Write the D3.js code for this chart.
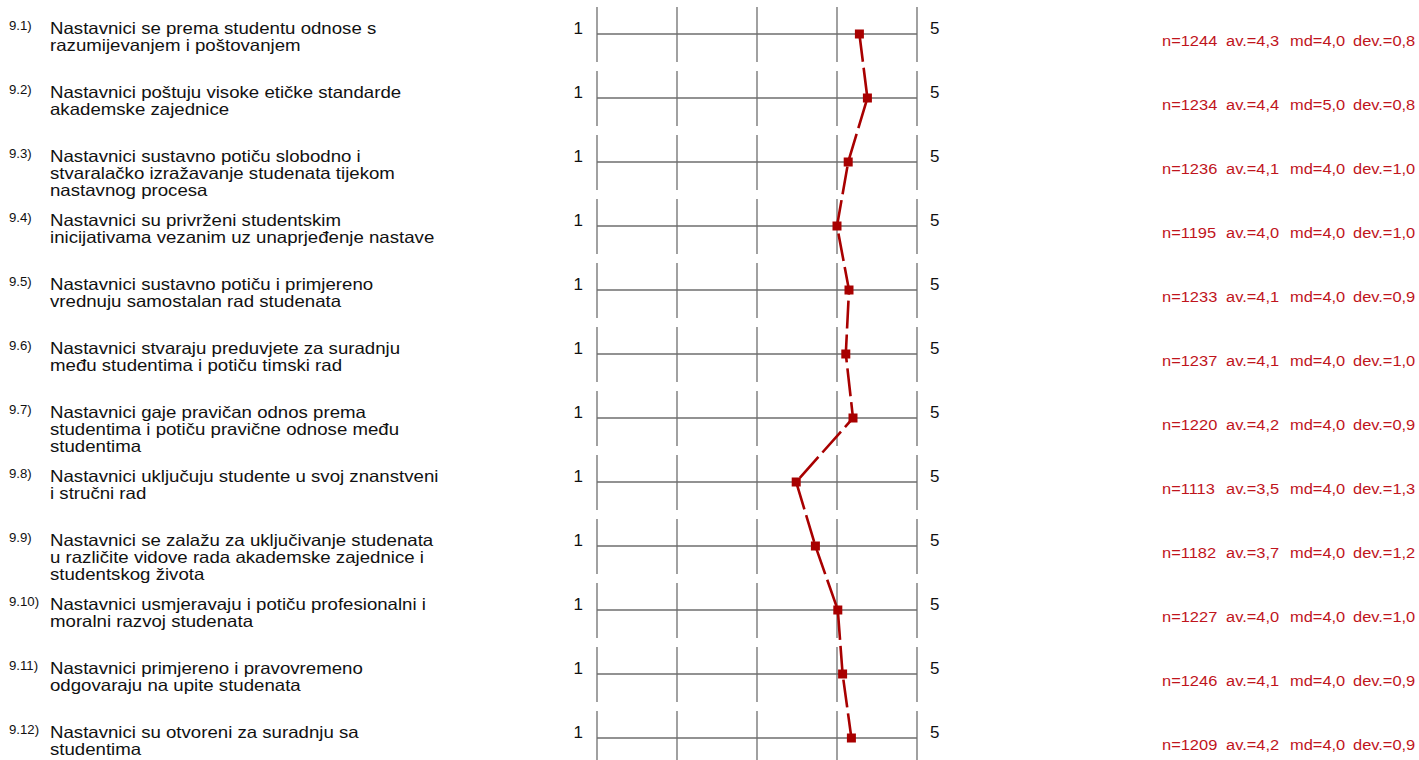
<!DOCTYPE html>
<meta charset="utf-8">
<style>
body { margin:0; background:#fff; }
svg text { font-family: Arial, "Liberation Sans", Helvetica, sans-serif; }
.grid line { stroke:#6e6e6e; stroke-width:1.3; }
.lbl { font-size:16.5px; fill:#111; }
.num { font-size:12px; fill:#111; }
.end { font-size:17px; fill:#111; }
.stat { font-size:15.5px; fill:#c0141c; }
</style>
<div id="chart"></div>
<script src="https://cdn.jsdelivr.net/npm/d3@7"></script>
<script>

var ids = ["9.1)","9.2)","9.3)","9.4)","9.5)","9.6)","9.7)","9.8)","9.9)","9.10)","9.11)","9.12)"]

var labels = [
  ["Nastavnici se prema studentu odnose s", "razumijevanjem i poštovanjem"],
  ["Nastavnici poštuju visoke etičke standarde", "akademske zajednice"],
  ["Nastavnici sustavno potiču slobodno i", "stvaralačko izražavanje studenata tijekom", "nastavnog procesa"],
  ["Nastavnici su privrženi studentskim", "inicijativama vezanim uz unaprjeđenje nastave"],
  ["Nastavnici sustavno potiču i primjereno", "vrednuju samostalan rad studenata"],
  ["Nastavnici stvaraju preduvjete za suradnju", "među studentima i potiču timski rad"],
  ["Nastavnici gaje pravičan odnos prema", "studentima i potiču pravične odnose među", "studentima"],
  ["Nastavnici uključuju studente u svoj znanstveni", "i stručni rad"],
  ["Nastavnici se zalažu za uključivanje studenata", "u različite vidove rada akademske zajednice i", "studentskog života"],
  ["Nastavnici usmjeravaju i potiču profesionalni i", "moralni razvoj studenata"],
  ["Nastavnici primjereno i pravovremeno", "odgovaraju na upite studenata"],
  ["Nastavnici su otvoreni za suradnju sa", "studentima"]
]

// mean position of the marker
var means = [4.28, 4.38, 4.14, 4.00, 4.15, 4.11, 4.20, 3.49, 3.73, 4.01, 4.07, 4.18]

var nVals   = ["1244","1234","1236","1195","1233","1237","1220","1113","1182","1227","1246","1209"]
var avVals  = ["4,3","4,4","4,1","4,0","4,1","4,1","4,2","3,5","3,7","4,0","4,1","4,2"]
var mdVals  = ["4,0","5,0","4,0","4,0","4,0","4,0","4,0","4,0","4,0","4,0","4,0","4,0"]
var devVals = ["0,8","0,8","1,0","1,0","0,9","1,0","0,9","1,3","1,2","1,0","0,9","0,9"]

var scaleTicks = [1,2,3,4,5]

var width = 1419, height = 760

var svg = d3.select("#chart").append("svg")
    .attr("width", width)
    .attr("height", height)

var x = d3.scaleLinear().domain([1,5]).range([597,917])
var y = d3.scalePoint().domain(ids).range([34,738])

var rows = svg.selectAll("g.row")
    .data(ids)
  .enter().append("g")
    .attr("class","row grid")
    .attr("transform", function(d){ return "translate(0," + y(d) + ")" })

// question number + text (source font is a bit wider than Arial)
rows.append("text")
    .attr("class","num")
    .attr("transform","translate(9,-4) scale(1.1,1)")
    .text(function(d){ return d })

rows.append("g")
    .attr("transform","translate(50,0) scale(1.13,1)")
  .append("text")
    .attr("class","lbl")
    .each(function(d,i){
      var t = d3.select(this)
      labels[i].forEach(function(line,j){
        t.append("tspan").attr("x",0).attr("y", j*17).text(line)
      })
    })

// scale
rows.append("line")
    .attr("x1", x(1)).attr("x2", x(5))
    .attr("y1", 0).attr("y2", 0)

rows.selectAll("line.tick")
    .data(scaleTicks)
  .enter().append("line")
    .attr("class","tick")
    .attr("x1", function(d){ return x(d) }).attr("x2", function(d){ return x(d) })
    .attr("y1", -27).attr("y2", 28)

rows.append("text")
    .attr("class","end")
    .attr("x", x(1) - 14)
    .attr("text-anchor","end")
    .text(scaleTicks[0])

rows.append("text")
    .attr("class","end")
    .attr("x", x(5) + 13)
    .text(scaleTicks[scaleTicks.length-1])

// stats
var statCols = [
  {x:1162, pre:"n=", vals:nVals},
  {x:1226, pre:"av.=", vals:avVals},
  {x:1290, pre:"md=", vals:mdVals},
  {x:1353, pre:"dev.=", vals:devVals}
]
statCols.forEach(function(c){
  rows.append("text")
      .attr("class","stat")
      .attr("transform","translate(" + c.x + ",12) scale(1.06,1)")
      .text(function(d,i){ return c.pre + c.vals[i] })
})

// profile line
var line = d3.line()
    .x(function(d){ return x(d) })
    .y(function(d,i){ return y(ids[i]) })

svg.append("path")
    .datum(means)
    .attr("d", line)
    .attr("fill","none")
    .attr("stroke","#a80000")
    .attr("stroke-width",2.6)
    .attr("stroke-dasharray","28,6")

svg.selectAll("rect.mark")
    .data(means)
  .enter().append("rect")
    .attr("class","mark")
    .attr("x", function(d){ return x(d) - 4.5 })
    .attr("y", function(d,i){ return y(ids[i]) - 4.5 })
    .attr("width", 9)
    .attr("height", 9)
    .attr("fill","#a80000")

</script>
